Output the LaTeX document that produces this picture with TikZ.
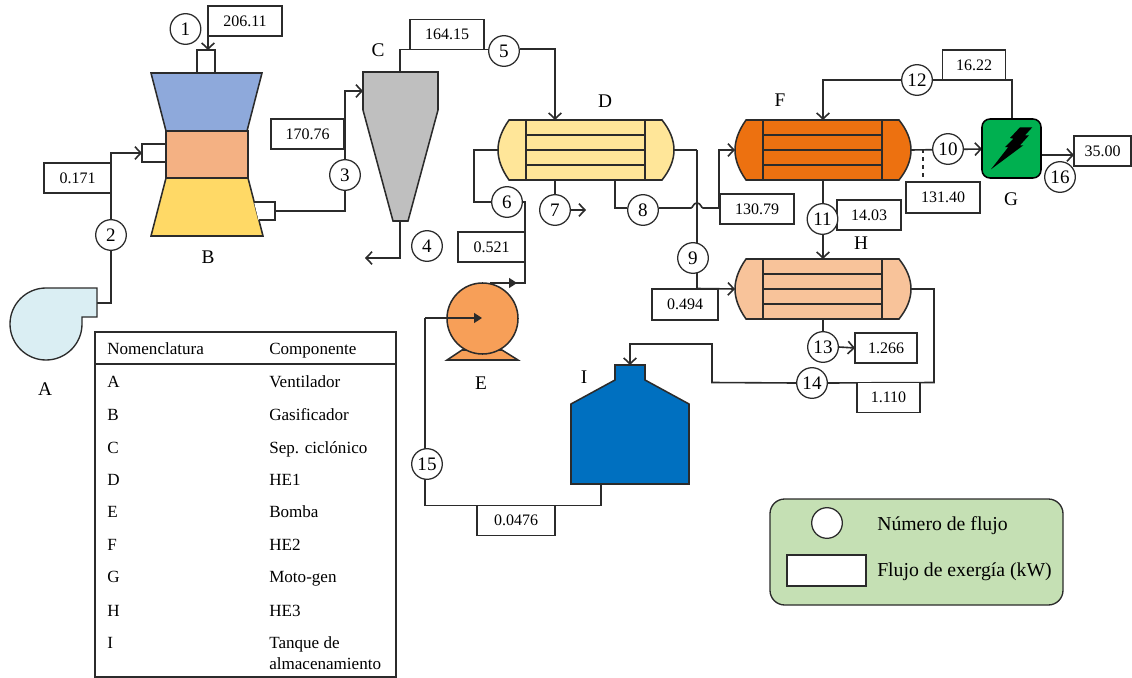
\documentclass[tikz,border=0pt]{standalone}
\usepackage{fontspec}
\setmainfont{Liberation Serif}
\usetikzlibrary{arrows.meta,backgrounds}
\definecolor{ink}{HTML}{2B2B2B}
\definecolor{cBlue}{HTML}{8EA9DB}
\definecolor{cOrange}{HTML}{F4B183}
\definecolor{cYellow}{HTML}{FFD966}
\definecolor{cGrey}{HTML}{BFBFBF}
\definecolor{cFan}{HTML}{DAEEF3}
\definecolor{cD}{HTML}{FFE699}
\definecolor{cF}{HTML}{ED7110}
\definecolor{cH}{HTML}{F8C39A}
\definecolor{cPump}{HTML}{F79F58}
\definecolor{cTank}{HTML}{0070C0}
\definecolor{cG}{HTML}{00B050}
\definecolor{cLeg}{HTML}{C5E0B4}
\newcommand{\fpx}[1]{\fontsize{#1}{#1}\selectfont}
\tikzset{
  ln/.style={draw=ink,line width=1.2pt,line join=miter},
  arr/.style={ln,-{Straight Barb[length=4.5pt,width=9.5pt]}},
  farr/.style={ln,-{Triangle[length=6pt,width=7.5pt]}},
  shp/.style={draw=ink,line width=1.15pt,line join=miter},
  flow/.style={draw=ink,line width=.95pt,fill=white,circle,inner sep=0pt,minimum size=23pt,font=\fpx{14.3}},
  val/.style 2 args={draw=ink,line width=.8pt,fill=white,inner sep=0pt,outer sep=0pt,minimum width=#1*.75pt,minimum height=#2*.75pt,font=\fpx{12}},
  letter/.style={inner sep=0pt,font=\fpx{14.5}},
  tab/.style={inner sep=0pt,anchor=base west,font=\fpx{12.8}},
  legt/.style={inner sep=0pt,anchor=base west,font=\fpx{14.8}}
}
\newcommand{\hxr}[4]{%
\begin{scope}[shift={(#2,#3)}]
  \path[shp,fill=#4] (11,0)--(164,0) .. controls (172,10) and (176,20) .. (176,30)
     .. controls (176,40) and (172,50) .. (164,60) -- (11,60)
     .. controls (4,50) and (0,40) .. (0,30) .. controls (0,20) and (4,10) .. (11,0) -- cycle;
  \draw[shp] (28,0)--(28,60) (147,0)--(147,60) (28,15)--(147,15) (28,30)--(147,30) (28,45)--(147,45);
  \coordinate (#1w) at (0,30);
  \coordinate (#1e) at (176,30);
\end{scope}}
\begin{document}
\begin{tikzpicture}[x=.75pt,y=-.75pt]
\useasboundingbox (0,0) rectangle (1132,678);
% ---------- fan A
\path[shp,line width=1pt,fill=cFan] (46,288) -- (97,288) -- (97,317) -- (82,317) -- (82,324)
  arc[start angle=0,end angle=270,radius=36] -- cycle;
\coordinate (Aout) at (97,303);
\node[letter] (lA) at (45,389) {A};
% ---------- gasifier B
\path[shp,fill=cBlue] (151,73) -- (262,73) -- (247,131) -- (166,131) -- cycle;
\path[shp,fill=cOrange] (166,131) rectangle (248,178);
\path[shp,fill=cYellow] (166,178) -- (248,178) -- (263,236) -- (151,236) -- cycle;
\path[shp,fill=white] (197,73) rectangle (215,50);
\path[shp,fill=white] (142,144) rectangle (166,162);
\path[shp,fill=white] (254,202) -- (275,202) -- (275,220) -- (258.5,220);
\coordinate (Btop) at (208,50);
\coordinate (Bin) at (142,153);
\coordinate (Bout) at (275,211);
\node[letter] (lB) at (208,257) {B};
% ---------- cyclone C
\path[shp,fill=cGrey] (363,72) -- (438,72) -- (438,110) -- (408,221) -- (393,221) -- (363,110) -- cycle;
\coordinate (Cin) at (363,91);
\coordinate (Ctop) at (400,72);
\coordinate (Cbot) at (400,221);
\coordinate (Cdrain) at (365,258);
\node[letter] (lC) at (378,50) {C};
% ---------- heat exchangers
\hxr{D}{498}{120}{cD}
\hxr{F}{735}{120}{cF}
\hxr{H}{735}{259}{cH}
\node[letter] (lD) at (605,101) {D};
\node[letter] (lF) at (780,100) {F};
\node[letter] (lH) at (861,243) {H};
\coordinate (Dt) at (555,120);
\coordinate (Db7) at (555,180);
\coordinate (Db8) at (615,180);
\coordinate (Ft) at (823,120);
\coordinate (Fb) at (823,180);
\coordinate (Ht) at (823,259);
\coordinate (Hb) at (823,319);
% ---------- pump E
\path[shp,fill=cPump] (447,360) -- (462,350) -- (502,350) -- (518,360) -- cycle;
\path[shp,fill=cPump] (482.5,318.5) circle[radius=35.5];
\coordinate (Ec) at (482,318);
\coordinate (Etop) at (490,283);
\node[letter] (lE) at (481,383) {E};
% ---------- tank I
\path[shp,fill=cTank] (615,365) -- (645,365) -- (645,380) -- (689,404) -- (689,484) -- (571,484) -- (571,404) -- (615,380) -- cycle;
\coordinate (Itop) at (630,365);
\coordinate (Ibot) at (601,484);
\node[letter] (lI) at (584,377) {I};
% ---------- generator G
\path[draw=black,line width=1.15pt,fill=cG,rounded corners=6pt] (982,119) rectangle (1041,178);
\path[fill=black] (1020,127.3) -- (1032.3,127.3) -- (1025,135.3) -- (1029,135.3) -- (1020,145.3) -- (1023.3,145.3)
  -- (991,169.3) -- (1008.3,147) -- (1005,147) -- (1013.3,138.7) -- (1010,138) -- cycle;
\coordinate (Gw) at (982,149);
\coordinate (Ge) at (1041,155);
\coordinate (Gt) at (1012,119);
\node[letter] (lG) at (1011,199) {G};
% ---------- value boxes
\node[val={74}{30}] (b206) at (245,21) {206.11};
\node[val={67}{30}] (b0171) at (77.5,178) {0.171};
\node[val={73}{30}] (b170) at (307.5,134) {170.76};
\node[val={74}{30}] (b164) at (447,34.5) {164.15};
\node[val={67}{30}] (b0521) at (491.5,247) {0.521};
\node[val={74}{30}] (b130) at (757,209) {130.79};
\node[val={66}{31}] (b0494) at (685,304.5) {0.494};
\node[val={63}{30}] (b16) at (974,65) {16.22};
\node[val={74}{31}] (b131) at (943,197.5) {131.40};
\node[val={64}{30}] (b14) at (869,215) {14.03};
\node[val={57}{30}] (b35) at (1102.5,151) {35.00};
\node[val={62}{30}] (b1266) at (886,348) {1.266};
\node[val={63}{30}] (b1110) at (888.5,397.5) {1.110};
\node[val={78}{30}] (b0476) at (516,520.5) {0.0476};
% ---------- flow number circles
\node[flow] (c1) at (185.5,29) {1};
\node[flow] (c2) at (111,235) {2};
\node[flow] (c3) at (345,175) {3};
\node[flow] (c4) at (427,246) {4};
\node[flow] (c5) at (504,51) {5};
\node[flow] (c6) at (507,202) {6};
\node[flow] (c7) at (555,210) {7};
\node[flow] (c8) at (643,210) {8};
\node[flow] (c9) at (693,258) {9};
\node[flow] (c10) at (948,149) {10};
\node[flow] (c11) at (822.5,219) {11};
\node[flow] (c12) at (917,80) {12};
\node[flow] (c13) at (823,347) {13};
\node[flow] (c14) at (812,383) {14};
\node[flow] (c15) at (427,464) {15};
\node[flow] (c16) at (1060,177) {16};
% ---------- connectors (behind the nodes)
\coordinate (j3a) at (345,91);
\coordinate (j5a) at (555,49);
\coordinate (j6a) at (474,202);
\coordinate (j6b) at (525,202);
\coordinate (j6c) at (525,283);
\coordinate (j8a) at (615,208);
\coordinate (j8b) at (691,208);
\coordinate (j8c) at (703,208);
\coordinate (j8d) at (719,208);
\coordinate (j9a) at (697,150);
\coordinate (j9b) at (697,288.5);
\coordinate (j14a) at (934,382.5);
\coordinate (j14b) at (712,382.5);
\coordinate (j14c) at (712,344);
\coordinate (j14d) at (630,344);
\coordinate (j15a) at (425,505.5);
\coordinate (j15b) at (425,318);
\coordinate (j4a) at (400,258);
\coordinate (j7a) at (586,210);
\coordinate (tap) at (923,149);
\begin{scope}[on background layer]
  \draw[arr] (b206.south west) -- (Btop);
  \draw[ln] (Aout) -| (c2.south);
  \draw[arr] (c2.north) |- (Bin);
  \draw[ln] (Bout) -| (c3.south);
  \draw[arr] (c3.north) |- (Cin);
  \draw[ln] (Ctop) |- (b164.south west);
  \draw[ln] (b164.south east) -- (c5.west |- b164.south);
  \draw[arr] (c5.east |- j5a) -- (j5a) -- (Dt);
  \draw[arr] (Cbot) -- (j4a) -- (Cdrain);
  \draw[ln] (Dw) -| (j6a) -- (c6.west);
  \draw[ln] (c6.east) -- (j6b) -- (j6c) -- (Etop);
  \draw[ln] (Db7) -- (c7.north);
  \draw[arr] (c7.east) -- (j7a);
  \draw[ln] (Db8) -- (j8a) -- (j8a -| c8.west);
  \draw[ln] (j8a -| c8.east) -- (j8b) .. controls (693,208) and (693,203) .. (697,203) .. controls (701,203) and (701,208) .. (j8c) -- (j8d);
  \draw[arr] (j8d) |- (Fw);
  \draw[ln] (De) -- (j9a);
  \draw[arr] (j9a) -- (j9b) -- (Hw);
  \draw[arr] (Fe) -- (Gw);
  \draw[ln,dashed,line width=.9pt] (tap) -- (tap |- b131.north);
  \draw[ln] (Gt) |- (c12.east);
  \draw[arr] (c12.west) -| (Ft);
  \draw[arr] (Fb) -- (Ht);
  \draw[ln] (Hb) -- (c13.north);
  \draw[arr] (c13.east) -- (b1266.west);
  \draw[ln] (He) -| (j14a) -- (c14.east);
  \draw[arr] (c14.west) -- (j14b) -- (j14c) -- (j14d) -- (Itop);
  \draw[ln] (Ibot) |- (j15a) -- (j15b);
  \draw[arr] (Ge) -- (Ge -| b35.west);
\end{scope}
% arrows lying on the pump
\draw[farr] (j15b) -- (Ec);
\draw[farr] (Etop) -- (517,283);
% ---------- table
\path[shp,line width=1.1pt] (95,332) rectangle (396,677);
\draw[shp] (95,364) -- (396,364);
\node[tab] (th1) at (107,354) {Nomenclatura};
\node[tab] (th2) at (269,354) {Componente};
\node[tab] (tl1) at (107,387) {A};
\node[tab] (tl2) at (107,420) {B};
\node[tab] (tl3) at (107,453) {C};
\node[tab] (tl4) at (107,485) {D};
\node[tab] (tl5) at (107,517) {E};
\node[tab] (tl6) at (107,550) {F};
\node[tab] (tl7) at (107,582) {G};
\node[tab] (tl8) at (107,616) {H};
\node[tab] (tl9) at (107,648) {I};
\node[tab] (tc1) at (269,387) {Ventilador};
\node[tab] (tc2) at (269,420) {Gasificador};
\node[tab] (tc3) at (269,453) {Sep. ciclónico};
\node[tab] (tc4) at (269,485) {HE1};
\node[tab] (tc5) at (269,517) {Bomba};
\node[tab] (tc6) at (269,550) {HE2};
\node[tab] (tc7) at (269,582) {Moto-gen};
\node[tab] (tc8) at (269,616) {HE3};
\node[tab] (tc9) at (269,648) {Tanque de};
\node[tab] (tc9b) at (269,669) {almacenamiento};
% ---------- legend
\path[shp,line width=1pt,fill=cLeg,rounded corners=11pt] (770,499) rectangle (1063,605);
\node[draw=ink,line width=.95pt,fill=white,circle,inner sep=0pt,minimum size=23pt] (legc) at (827,523) {};
\node[val={79}{31}] (legb) at (826.5,570.5) {};
\node[legt] (legt1) at (877,530) {Número de flujo};
\node[legt] (legt2) at (877,576.5) {Flujo de exergía (kW)};
\end{tikzpicture}
\end{document}
